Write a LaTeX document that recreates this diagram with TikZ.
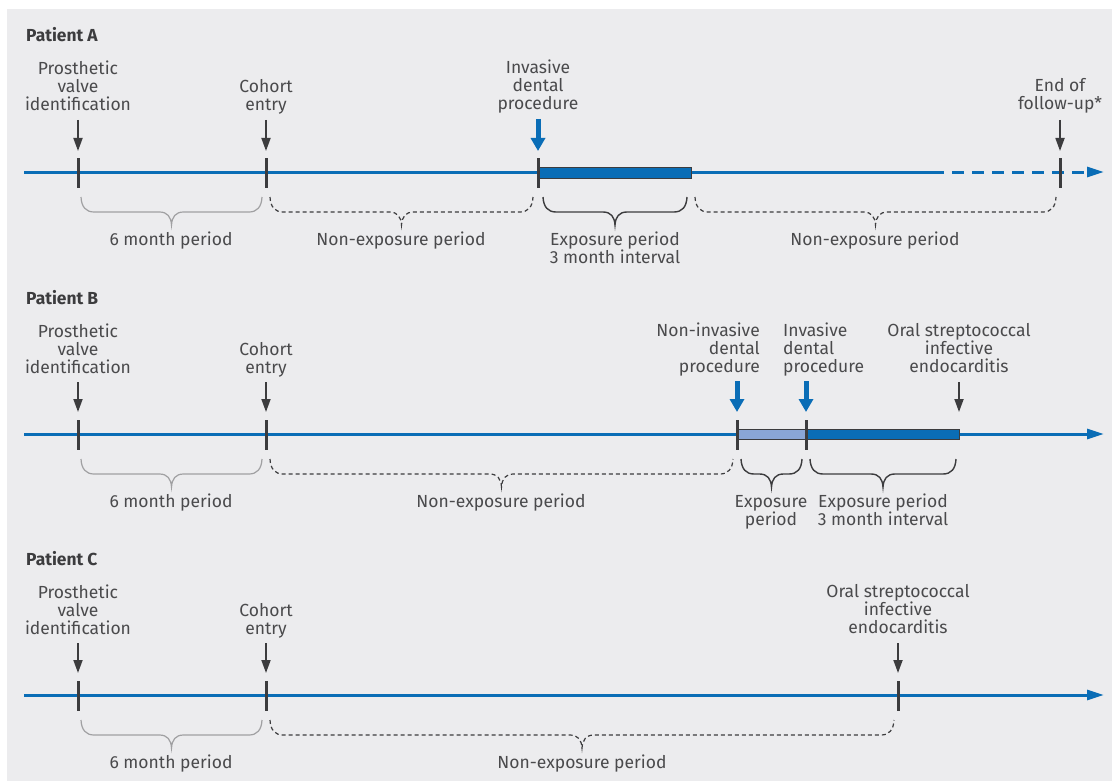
\documentclass[tikz,border=0pt]{standalone}
\usepackage{fontspec}
\setmainfont{Fira Sans}
\usetikzlibrary{arrows.meta}
\definecolor{bg}{HTML}{ECECEE}
\definecolor{tblue}{HTML}{0A6DB6}
\definecolor{lblue}{HTML}{8AA6D6}
\definecolor{txt}{HTML}{4A4A4C}
\definecolor{dk}{HTML}{3C3C3E}
\definecolor{gbr}{HTML}{A0A0A2}
\newcommand{\mybrace}[4]{% x1, x2, y, style
  \pgfmathsetmacro{\xm}{(#1+#2)/2}
  \draw[#4] (#1,#3) .. controls (#1+0.5,#3+10) and (#1+5,#3+15) .. (#1+13,#3+15)
    -- (\xm-12,#3+15) .. controls (\xm-4,#3+15) and (\xm-0.5,#3+20) .. (\xm,#3+28)
    .. controls (\xm+0.5,#3+20) and (\xm+4,#3+15) .. (\xm+12,#3+15)
    -- (#2-13,#3+15) .. controls (#2-5,#3+15) and (#2-0.5,#3+10) .. (#2,#3);
}
\begin{document}
\begin{tikzpicture}[x=1pt,y=-1pt,
  lbl/.style={font=\fontsize{17.5}{18}\selectfont, text=txt, align=center, inner sep=0pt, anchor=base},
  ttl/.style={font=\fontsize{17.4}{18}\selectfont\bfseries, text=dk, inner sep=0pt, anchor=base west},
  tline/.style={draw=tblue, line width=3pt},
  tarrow/.style={tline, -{Triangle[length=17pt,width=10pt]}},
  tickmark/.style={draw=dk, line width=3pt},
  darr/.style={draw=dk, line width=1.8pt, -{Triangle[length=13pt,width=9pt]}},
  barr/.style={draw=tblue, line width=5pt, -{Triangle[length=13pt,width=14pt]}},
  expbar/.style={fill=tblue, draw=dk, line width=1pt},
  lexpbar/.style={fill=lblue, draw=dk, line width=1pt},
  gbrace/.style={draw=gbr, line width=1.2pt},
  dbrace/.style={draw=dk, line width=1.2pt, dash pattern=on 4pt off 3pt},
  sbrace/.style={draw=dk, line width=1.4pt},
]
\useasboundingbox (0,0) rectangle (1113,781);
\fill[white] (0,0) rectangle (1113,781);
\fill[bg] (7,9) rectangle (1112,781);

% ================= Patient A (timeline y=172)
\node[ttl] (tA) at (26,42) {Patient A};
\coordinate (a0) at (24,172);
\coordinate (aend) at (1104,172);
\coordinate (adash) at (932,172);
\draw[tline] (a0) -- (adash);
\draw[tarrow, dash pattern=on 12pt off 8pt] (adash) -- (aend);
\draw[expbar] (538,167) rectangle (691,178);
\foreach \n/\x in {a1/78,a2/266,a3/538,a4/1060}{
  \coordinate (\n t) at (\x,158);
  \coordinate (\n b) at (\x,188);
  \draw[tickmark] (\n t) -- (\n b);
}
\node[lbl] (la1) at (78,111) {Prosthetic\\valve\\identification};
\node[lbl] (la2) at (266,111) {Cohort\\entry};
\node[lbl] (la3) at (538,110) {Invasive\\dental\\procedure};
\node[lbl] (la4) at (1060,110) {End of\\follow-up*};
\foreach \n in {a1,a2,a4}{
  \draw[darr] (\n t |- 0,120) -- (\n t |- 0,151);
}
\draw[barr] (a3t |- 0,119) -- (a3t |- 0,151);
\mybrace{81}{262}{197}{gbrace}
\mybrace{270}{533}{197}{dbrace}
\mybrace{543}{687}{197}{sbrace}
\mybrace{695}{1056}{197}{dbrace}
\node[lbl] (pa1) at (171,245) {6 month period};
\node[lbl] (pa2) at (401,245) {Non-exposure period};
\node[lbl] (pa3) at (615,263) {Exposure period\\3 month interval};
\node[lbl] (pa4) at (875,245) {Non-exposure period};

% ================= Patient B (timeline y=434)
\node[ttl] (tB) at (26,304) {Patient B};
\coordinate (b0) at (24,434);
\coordinate (bend) at (1104,434);
\draw[tarrow] (b0) -- (bend);
\draw[lexpbar] (737,429) rectangle (806,439);
\draw[expbar] (806,429) rectangle (959,439);
\foreach \n/\x in {b1/78,b2/266,b3/737,b4/806}{
  \coordinate (\n t) at (\x,420);
  \coordinate (\n b) at (\x,450);
  \draw[tickmark] (\n t) -- (\n b);
}
\coordinate (b5t) at (959,420);
\node[lbl] (lb1) at (78,373) {Prosthetic\\valve\\identification};
\node[lbl] (lb2) at (266,373) {Cohort\\entry};
\node[lbl, align=right, anchor=base east] (lb3) at (760,372) {Non-invasive\\dental\\procedure};
\node[lbl, align=left, anchor=base west] (lb4) at (783,372) {Invasive\\dental\\procedure};
\node[lbl] (lb5) at (959,372) {Oral streptococcal\\infective\\endocarditis};
\foreach \n in {b1,b2,b5}{
  \draw[darr] (\n t |- 0,382) -- (\n t |- 0,412);
}
\foreach \n in {b3,b4}{
  \draw[barr] (\n t |- 0,381) -- (\n t |- 0,412);
}
\mybrace{81}{262}{459}{gbrace}
\mybrace{270}{733}{459}{dbrace}
\mybrace{741}{802}{459}{sbrace}
\mybrace{810}{956}{459}{sbrace}
\node[lbl] (pb1) at (171,507) {6 month period};
\node[lbl] (pb2) at (501,507) {Non-exposure period};
\node[lbl] (pb3) at (771,525) {Exposure\\period};
\node[lbl] (pb4) at (883,525) {Exposure period\\3 month interval};

% ================= Patient C (timeline y=695)
\node[ttl] (tC) at (26,565) {Patient C};
\coordinate (c0) at (24,695);
\coordinate (cend) at (1104,695);
\draw[tarrow] (c0) -- (cend);
\foreach \n/\x in {c1/78,c2/266,c3/898}{
  \coordinate (\n t) at (\x,681);
  \coordinate (\n b) at (\x,711);
  \draw[tickmark] (\n t) -- (\n b);
}
\node[lbl] (lc1) at (78,634) {Prosthetic\\valve\\identification};
\node[lbl] (lc2) at (266,634) {Cohort\\entry};
\node[lbl] (lc3) at (898,633) {Oral streptococcal\\infective\\endocarditis};
\foreach \n in {c1,c2,c3}{
  \draw[darr] (\n t |- 0,643) -- (\n t |- 0,673);
}
\mybrace{81}{262}{720}{gbrace}
\mybrace{270}{894}{720}{dbrace}
\node[lbl] (pc1) at (171,768) {6 month period};
\node[lbl] (pc2) at (582,768) {Non-exposure period};
\end{tikzpicture}
\end{document}
